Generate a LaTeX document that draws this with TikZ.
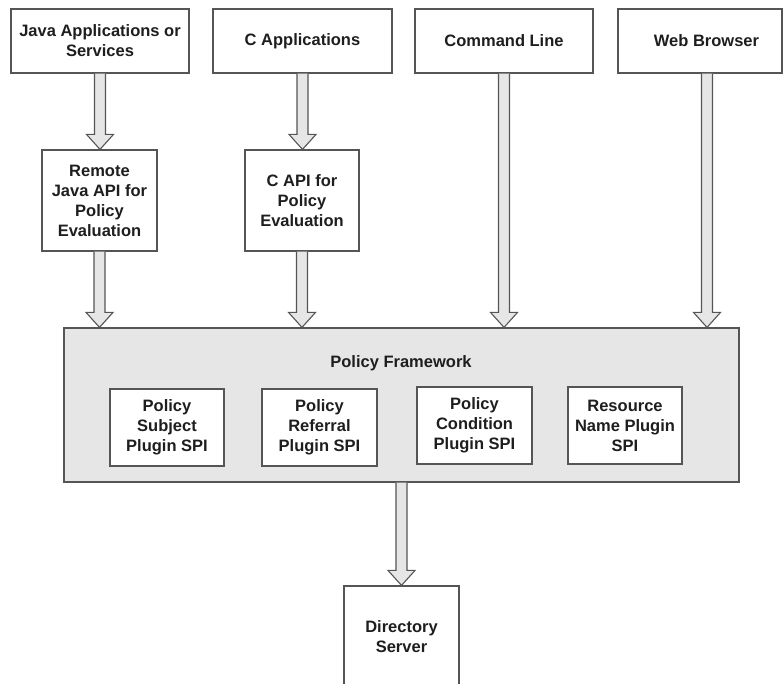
\documentclass[tikz,border=0pt]{standalone}
\usepackage{fontspec}
\setmainfont{Liberation Sans}
\usetikzlibrary{calc}
\definecolor{edge}{HTML}{555555}
\definecolor{panel}{HTML}{E6E6E6}
\definecolor{ink}{HTML}{1E1E1E}
\newcommand\labelfont{\bfseries\fontsize{16.5}{20}\selectfont}
% hollow block arrow pointing down, from the start point #1 to the tip #2
\newcommand\fatarrow[2]{%
  \filldraw[flow] let \p1=(#1), \p2=(#2) in
    (\x1-5.5pt,\y1) -- (\x1-5.5pt,\y2+15pt) -- (\x1-13.5pt,\y2+15pt) -- (\x1,\y2)
    -- (\x1+13.5pt,\y2+15pt) -- (\x1+5.5pt,\y2+15pt) -- (\x1+5.5pt,\y1);}
\begin{document}
\begin{tikzpicture}[x=1pt,y=-1pt,
  box/.style={draw=edge,line width=1.2pt,fill=white,inner sep=0pt,align=center,
    font=\labelfont,text=ink},
  panelbox/.style={box,fill=panel},
  flow/.style={draw=edge,line width=1.1pt,fill=panel,line join=miter},
  caption/.style={font=\labelfont,text=ink,inner sep=0pt}]
\useasboundingbox (0,0) rectangle (784,684);
\clip (0,0) rectangle (784,684);

% sources
\node[box,minimum width=178,minimum height=64] (java) at (100,41)
  {Java Applications or\\Services};
\node[box,minimum width=179,minimum height=64] (capp) at (302.5,41) {C Applications};
\node[box,minimum width=178,minimum height=64] (cmd) at (504,41) {Command Line};
\node[box,minimum width=164,minimum height=64,
  label={[caption,xshift=6.5pt]center:Web Browser}] (web) at (700,41) {};

% client APIs
\node[box,minimum width=115,minimum height=101] (rjava) at (99.5,200.5)
  {Remote\\Java API for\\Policy\\Evaluation};
\node[box,minimum width=114,minimum height=101] (capi) at (302,200.5)
  {C API for\\Policy\\Evaluation};

% policy framework with its plugin interfaces
\node[panelbox,minimum width=675,minimum height=154] (frame) at (401.5,405) {};
\node[caption] (fwtitle) at (401,363) {Policy Framework};
\node[box,minimum width=114,minimum height=77] (subj) at (167,427.5)
  {Policy\\Subject\\Plugin SPI};
\node[box,minimum width=115,minimum height=77] (refl) at (319.5,427.5)
  {Policy\\Referral\\Plugin SPI};
\node[box,minimum width=115,minimum height=77] (cond) at (474.5,425.5)
  {Policy\\Condition\\Plugin SPI};
\node[box,minimum width=114,minimum height=77] (rsrc) at (625,425.5)
  {Resource\\Name Plugin\\SPI};

% directory
\node[box,minimum width=115,minimum height=101] (dir) at (401.5,636.5)
  {Directory\\Server};

% connectors
\coordinate (webout) at ($(web.south)+(7,0)$);
\fatarrow{java.south}{java.south |- rjava.north}
\fatarrow{capp.south}{capp.south |- capi.north}
\fatarrow{rjava.south}{rjava.south |- frame.north}
\fatarrow{capi.south}{capi.south |- frame.north}
\fatarrow{cmd.south}{cmd.south |- frame.north}
\fatarrow{webout}{webout |- frame.north}
\fatarrow{frame.south}{frame.south |- dir.north}
\end{tikzpicture}
\end{document}
